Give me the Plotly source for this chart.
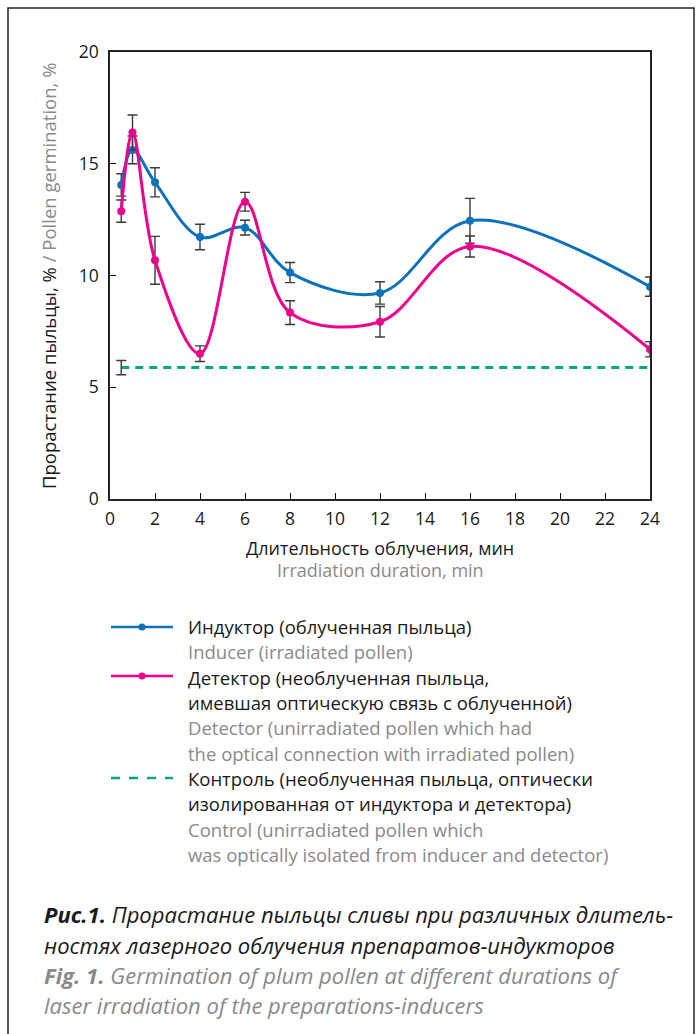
import plotly.graph_objects as go

# Irradiation duration, min
durations = [0.5, 1, 2, 4, 6, 8, 12, 16, 24]

# Inducer (irradiated pollen): germination, % and its error
inducer = [14.05, 15.62, 14.17, 11.72, 12.14, 10.13, 9.22, 12.45, 9.50]
inducer_err = [0.50, 0.62, 0.65, 0.57, 0.33, 0.45, 0.50, 1.00, 0.43]

# Detector (unirradiated pollen, optically coupled): germination, % and error
detector = [12.88, 16.40, 10.68, 6.50, 13.30, 8.34, 7.93, 11.30, 6.70]
detector_err = [0.50, 0.78, 1.07, 0.35, 0.42, 0.53, 0.68, 0.47, 0.34]

# Control (optically isolated pollen)
control_x = [0.5, 24]
control_level = 5.88
control_err = 0.32

x_ticks = [0, 2, 4, 6, 8, 10, 12, 14, 16, 18, 20, 22, 24]
y_ticks = [0, 5, 10, 15, 20]

BLUE = "#0A72BA"
PINK = "#EC008C"
GREEN = "#00A97A"
DARK = "#1a1a1a"
GREY = "#8a8a8a"
FONT = "Open Sans"

W, H = 697, 1034
L, R, T, B = 110, 650, 52, 499


def fx(p):
    return (p - L) / (R - L)


def fy(p):
    return (B - p) / (B - T)


fig = go.Figure()

err_style = dict(type="data", color="#3a3a3a", thickness=1.4, width=5)

fig.add_trace(go.Scatter(
    x=control_x, y=[control_level] * len(control_x), mode="lines",
    line=dict(color=GREEN, width=3, dash="8px,6px"), hoverinfo="skip"))
fig.add_trace(go.Scatter(
    x=[control_x[0]], y=[control_level], mode="markers",
    marker=dict(size=1, opacity=0),
    error_y=dict(array=[control_err], **err_style)))

fig.add_trace(go.Scatter(
    x=durations, y=inducer, mode="lines+markers",
    line=dict(color=BLUE, width=3, shape="spline", smoothing=1.0),
    marker=dict(color=BLUE, size=8),
    error_y=dict(array=inducer_err, **err_style)))

fig.add_trace(go.Scatter(
    x=durations, y=detector, mode="lines+markers",
    line=dict(color=PINK, width=3, shape="spline", smoothing=1.0),
    marker=dict(color=PINK, size=8),
    error_y=dict(array=detector_err, **err_style)))

axis_common = dict(
    ticks="inside", ticklen=6, tickwidth=1.3, tickcolor="#111",
    showline=True, linecolor="#222", linewidth=1.6, mirror=True,
    showgrid=False, zeroline=False,
    tickfont=dict(size=17.5, color=DARK, family=FONT))
fig.update_xaxes(range=[0, 24], tickvals=x_ticks, ticklabelstandoff=3, **axis_common)
fig.update_yaxes(range=[0, 20], tickvals=y_ticks, ticklabelstandoff=6, **axis_common)

ann = []


def text(px, py, s, size=18.5, color=DARK, anchor="left", **kw):
    ann.append(dict(x=fx(px), y=fy(py), xref="paper", yref="paper", text=s,
                    showarrow=False, xanchor=anchor, yanchor="middle",
                    font=dict(size=size, color=color, family=FONT), **kw))


# axis titles
text(380, 547, "Длительность облучения, мин", size=18, anchor="center", height=21)
text(380, 569, "Irradiation duration, min", size=18, color=GREY, anchor="center", height=21)
text(48, 276,
     f"Прорастание пыльцы, % <span style='color:{GREY}'>/ Pollen germination, %</span>",
     anchor="center", textangle=-90)

# legend
lx = 186
rows = [
    (626, "Индуктор (облученная пыльца)", DARK),
    (651, "Inducer (irradiated pollen)", GREY),
    (677, "Детектор (необлученная пыльца,", DARK),
    (702, "имевшая оптическую связь с облученной)", DARK),
    (727, "Detector (unirradiated pollen which had", GREY),
    (753, "the optical connection with irradiated pollen)", GREY),
    (778, "Контроль (необлученная пыльца, оптически", DARK),
    (803, "изолированная от индуктора и детектора)", DARK),
    (829, "Control (unirradiated pollen which", GREY),
    (854, "was optically isolated from inducer and detector)", GREY),
]
for py, s, c in rows:
    text(lx, py, s, color=c, height=24)

shapes = []
for py, col, dash in [(627, BLUE, None), (676, PINK, None), (778, GREEN, "dash")]:
    shapes.append(dict(type="line", xref="paper", yref="paper",
                       x0=fx(111), x1=fx(173), y0=fy(py), y1=fy(py),
                       line=dict(color=col, width=2.5, dash=dash or "solid")))
    if dash is None:
        shapes.append(dict(type="circle", xref="paper", yref="paper",
                           x0=fx(138.5), x1=fx(145.5), y0=fy(py - 3.5), y1=fy(py + 3.5),
                           fillcolor=col, line=dict(color=col, width=0)))

# outer frame
shapes.append(dict(type="rect", xref="paper", yref="paper",
                   x0=fx(8), x1=fx(694), y0=fy(8), y1=fy(1060),
                   line=dict(color="#222", width=1.5), fillcolor="rgba(0,0,0,0)"))

# caption
cap = 22
captions = [
    (913, "<b><i>Рис.1.</i></b><i> Прорастание пыльцы сливы при различных длитель-</i>", DARK),
    (944, "<i>ностях лазерного облучения препаратов-индукторов</i>", DARK),
    (974, "<b><i>Fig. 1.</i></b><i> Germination of plum pollen at different durations of</i>", GREY),
    (1004, "<i>laser irradiation of the preparations-inducers</i>", GREY),
]
for py, s, c in captions:
    text(42, py, s, size=cap, color=c, height=29)

fig.update_layout(
    width=W, height=H, showlegend=False,
    margin=dict(l=L, r=W - R, t=T, b=H - B, pad=0),
    paper_bgcolor="white", plot_bgcolor="white",
    annotations=ann, shapes=shapes,
    font=dict(family=FONT, color=DARK),
)

fig.write_html("out.html")
